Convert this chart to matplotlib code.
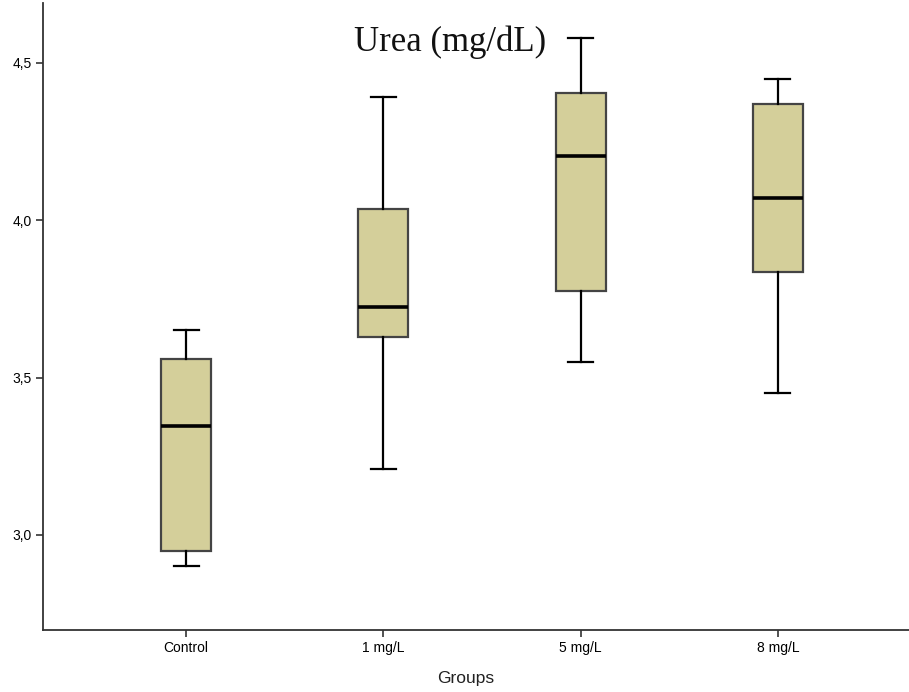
import matplotlib
matplotlib.use("Agg")
import matplotlib.pyplot as plt

groups = ["Control", "1 mg/L", "5 mg/L", "8 mg/L"]
whisker_low = [2.90, 3.21, 3.55, 3.45]
q1 = [2.95, 3.63, 3.775, 3.835]
median = [3.345, 3.725, 4.205, 4.07]
q3 = [3.56, 4.035, 4.405, 4.37]
whisker_high = [3.65, 4.39, 4.58, 4.45]
yticks = [3.0, 3.5, 4.0, 4.5]
ytick_labels = ["3,0", "3,5", "4,0", "4,5"]

stats = []
for i, g in enumerate(groups):
    stats.append({"label": g, "whislo": whisker_low[i], "q1": q1[i], "med": median[i],
                  "q3": q3[i], "whishi": whisker_high[i], "fliers": []})

fig = plt.figure(figsize=(9.09, 6.92), dpi=100)
ax = fig.add_axes([43 / 909, 62 / 692, 1 - 43 / 909, 627 / 692])

ax.bxp(stats, positions=range(len(groups)), widths=0.254, patch_artist=True,
       showfliers=False,
       boxprops=dict(facecolor="#d4cf9a", edgecolor="#444444", linewidth=1.6),
       medianprops=dict(color="black", linewidth=2.6),
       whiskerprops=dict(color="black", linewidth=1.6),
       capprops=dict(color="black", linewidth=1.6),
       capwidths=0.127)

ax.set_xlim(-0.726, 3.665)
ax.set_ylim(2.698, 4.69)
ax.set_yticks(yticks)
ax.set_yticklabels(ytick_labels)
ax.set_xticks(range(len(groups)))
ax.set_xticklabels(groups)

for s in ["top", "right"]:
    ax.spines[s].set_visible(False)
for s in ["left", "bottom"]:
    ax.spines[s].set_color("#333333")
    ax.spines[s].set_linewidth(1.3)

ax.tick_params(axis="both", direction="out", length=5, width=1.2, color="#333333",
               labelsize=10, pad=3)
for lab in ax.get_xticklabels() + ax.get_yticklabels():
    lab.set_family("Liberation Sans")

ax.set_xlabel("Groups", fontsize=12.5, family="Liberation Sans", color="#222222")
ax.xaxis.set_label_coords((466 - 43) / (909 - 43), -0.066)

# title sits inside the plot area, like the original
fig.text(450 / 909, 1 - 42 / 692, "Urea (mg/dL)", family="Liberation Serif",
         fontsize=25, ha="center", va="center", color="#111111")

fig.savefig("out.png", dpi=100)
